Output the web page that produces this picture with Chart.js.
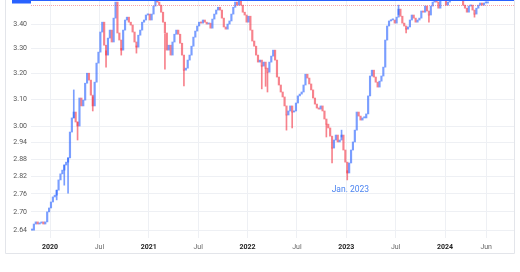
<!DOCTYPE html>
<html>
<head>
<meta charset="utf-8">
<script src="https://cdn.jsdelivr.net/npm/chart.js@4.4.1/dist/chart.umd.min.js"></script>
<style>
  html, body { margin: 0; padding: 0; background: #fff; }
  canvas { display: block; }
</style>
</head>
<body>
<canvas id="myChart" width="520" height="272"></canvas>
<script>
// weekly closes, first week ~ end of Oct 2019
const weekStart = -2.19;          // months from Jan 2020
const weekStep = 12 / 52;
const closes = [
  2.640, 2.660, 2.667, 2.660, 2.663, 2.667, 2.660, 2.667, 2.700, 2.713,
  2.733, 2.750, 2.756, 2.773, 2.808, 2.829, 2.842, 2.860, 2.870, 2.885,
  2.978, 3.030, 3.052, 3.015, 3.000, 3.105, 3.075, 3.097, 3.162, 3.201,
  3.174, 3.116, 3.075, 3.166, 3.241, 3.285, 3.367, 3.408, 3.313, 3.273,
  3.342, 3.375, 3.326, 3.425, 3.493, 3.363, 3.334, 3.293, 3.375, 3.417,
  3.429, 3.408, 3.396, 3.367, 3.326, 3.305, 3.354, 3.375, 3.408, 3.417,
  3.438, 3.442, 3.417, 3.442, 3.476, 3.498, 3.493, 3.480, 3.450, 3.408,
  3.363, 3.293, 3.313, 3.273, 3.326, 3.358, 3.375, 3.358, 3.321, 3.273,
  3.213, 3.221, 3.253, 3.273, 3.309, 3.346, 3.371, 3.392, 3.408, 3.404,
  3.417, 3.408, 3.400, 3.404, 3.383, 3.421, 3.442, 3.459, 3.471, 3.459,
  3.425, 3.388, 3.379, 3.400, 3.413, 3.442, 3.471, 3.493, 3.480, 3.502,
  3.480, 3.450, 3.438, 3.408, 3.433, 3.375, 3.330, 3.309, 3.273, 3.245,
  3.253, 3.229, 3.245, 3.221, 3.205, 3.245, 3.269, 3.293, 3.253, 3.186,
  3.155, 3.128, 3.109, 3.075, 3.041, 3.056, 3.075, 3.052, 3.056, 3.086,
  3.113, 3.120, 3.128, 3.155, 3.197, 3.182, 3.159, 3.136, 3.105, 3.082,
  3.067, 3.063, 3.075, 3.056, 3.026, 3.007, 2.993, 2.963, 2.920, 2.949,
  2.967, 2.942, 2.949, 2.967, 2.913, 2.870, 2.832, 2.867, 2.913, 2.942,
  2.985, 3.052, 3.037, 3.022, 3.030, 3.030, 3.045, 3.113, 3.190, 3.213,
  3.186, 3.166, 3.147, 3.170, 3.190, 3.225, 3.334, 3.392, 3.413, 3.417,
  3.417, 3.404, 3.429, 3.463, 3.433, 3.404, 3.392, 3.379, 3.388, 3.417,
  3.438, 3.425, 3.408, 3.417, 3.425, 3.455, 3.450, 3.476, 3.455, 3.438,
  3.476, 3.493, 3.502, 3.493, 3.467, 3.502, 3.510, 3.502, 3.480, 3.493,
  3.515, 3.520, 3.525, 3.518, 3.522, 3.515, 3.505, 3.480, 3.467, 3.450,
  3.476, 3.480, 3.459, 3.442, 3.467, 3.480, 3.489, 3.480, 3.489, 3.489, 3.489
];
// [week, low, high] for the long wicks
const wicks = [
  [13, 2.740, 2.773], [17, 2.790, 2.860], [19, 2.763, 2.885], [22, 3.030, 3.136],
  [24, 2.949, 3.015], [32, 3.056, 3.110], [39, 3.225, 3.290], [47, 3.273, 3.300],
  [55, 3.281, 3.310], [70, 3.217, 3.360], [80, 3.151, 3.213], [121, 3.140, 3.230],
  [123, 3.150, 3.221], [124, 3.128, 3.205], [134, 2.985, 3.041], [137, 2.993, 3.052],
  [155, 2.960, 3.007], [158, 2.867, 2.920], [163, 2.960, 2.985], [166, 2.808, 2.840],
  [193, 3.440, 3.480], [197, 3.363, 3.380], [209, 3.408, 3.438], [233, 3.429, 3.442]
];
const tickMonths = [0, 6, 12, 18, 24, 30, 36, 42, 48, 53];
const tickLabels = ['2020', 'Jul', '2021', 'Jul', '2022', 'Jul', '2023', 'Jul', '2024', 'Jun'];
const yTicks = [2.64, 2.70, 2.76, 2.82, 2.88, 2.94, 3.00, 3.10, 3.20, 3.30, 3.40];
const lastPrice = 3.50;
const prevClose = 3.48;
const note = { text: 'Jan. 2023', x: 36.5, y: 2.773 };

const UP = 'rgba(41, 98, 255, 0.62)';
const DOWN = 'rgba(242, 54, 69, 0.62)';
const FONT = 'Roboto, "Noto Sans", sans-serif';

const opens = closes.map((c, i) => (i ? closes[i - 1] : c));
const isUp = closes.map((c, i) => c >= opens[i]);
const bodies = closes.map((c, i) => ({ x: weekStart + i * weekStep, y: [opens[i], c] }));
const wickBars = wicks.map(([i, lo, hi]) => ({ x: weekStart + i * weekStep, y: [lo, hi] }));

const extras = {
  id: 'extras',
  beforeDraw(chart) {
    const c = chart.ctx;
    c.save();
    c.strokeStyle = '#e3e5ea';
    c.lineWidth = 1;
    c.beginPath();
    c.moveTo(5.5, 0);
    c.lineTo(5.5, 253.5);
    c.lineTo(514.5, 253.5);
    c.lineTo(514.5, 0);
    c.stroke();
    c.restore();
  },
  afterDatasetsDraw(chart) {
    const c = chart.ctx;
    const { left, right } = chart.chartArea;
    const y = chart.scales.y;
    const x = chart.scales.x;
    c.save();
    // previous close, dotted
    const yp = Math.round(y.getPixelForValue(prevClose)) + 0.5;
    c.strokeStyle = 'rgba(242, 54, 69, 0.45)';
    c.setLineDash([1, 1]);
    c.beginPath(); c.moveTo(left, yp); c.lineTo(right, yp); c.stroke();
    c.setLineDash([]);
    // last price line + label
    const yl = Math.max(0.5, Math.round(y.getPixelForValue(lastPrice)) + 0.5);
    c.strokeStyle = '#2962ff';
    c.beginPath(); c.moveTo(left, yl); c.lineTo(right, yl); c.stroke();
    c.fillStyle = '#2962ff';
    c.fillRect(12, -7, left - 12, 10.5);
    c.fillStyle = '#fff';
    c.font = 'bold 7px ' + FONT;
    c.textAlign = 'center';
    c.textBaseline = 'middle';
    c.fillText('3.50', (12 + left) / 2, -1.5);
    // note
    c.fillStyle = '#4c84f0';
    c.font = '8.5px ' + FONT;
    c.fillText(note.text, x.getPixelForValue(note.x), y.getPixelForValue(note.y));
    c.restore();
  }
};

const ctx = document.getElementById('myChart').getContext('2d');
new Chart(ctx, {
  type: 'bar',
  data: {
    datasets: [
      {
        data: wickBars,
        backgroundColor: wicks.map(([i]) => (isUp[i] ? UP : DOWN)),
        barThickness: 1,
        grouped: false,
        minBarLength: 1
      },
      {
        data: bodies,
        backgroundColor: isUp.map(u => (u ? UP : DOWN)),
        barThickness: 1.5,
        grouped: false,
        minBarLength: 1.2
      }
    ]
  },
  options: {
    responsive: false,
    animation: false,
    devicePixelRatio: 1,
    layout: { padding: { left: 0, right: 6, top: 0, bottom: 19 } },
    plugins: { legend: { display: false }, tooltip: { enabled: false } },
    scales: {
      x: {
        type: 'linear',
        min: -2.31,
        max: 56.38,
        offset: false,
        grid: { color: '#eef0f4', drawTicks: false, offset: false },
        border: { display: false },
        afterBuildTicks: s => { s.ticks = tickMonths.map(v => ({ value: v })); },
        afterFit: s => { s.height = 15; s.paddingLeft = 0; s.paddingRight = 0; },
        ticks: {
          autoSkip: false,
          maxRotation: 0,
          padding: 5,
          callback: v => tickLabels[tickMonths.indexOf(v)],
          color: c => (tickLabels[c.index] && tickLabels[c.index].length === 4 ? '#222' : '#666'),
          font: c => ({ family: FONT, size: 7, weight: tickLabels[c.index] && tickLabels[c.index].length === 4 ? 'bold' : 'normal' })
        }
      },
      y: {
        type: 'logarithmic',
        position: 'left',
        min: 2.6148,
        max: 3.502,
        grid: { color: '#eef0f4', drawTicks: false },
        border: { display: false },
        afterBuildTicks: s => { s.ticks = yTicks.map(v => ({ value: v })); },
        afterFit: s => { s.width = 31; s.paddingTop = 0; s.paddingBottom = 0; },
        ticks: {
          padding: 4,
          color: '#555',
          font: { family: FONT, size: 7 },
          callback: v => Number(v).toFixed(2)
        }
      }
    }
  },
  plugins: [extras]
});
</script>
</body>
</html>
